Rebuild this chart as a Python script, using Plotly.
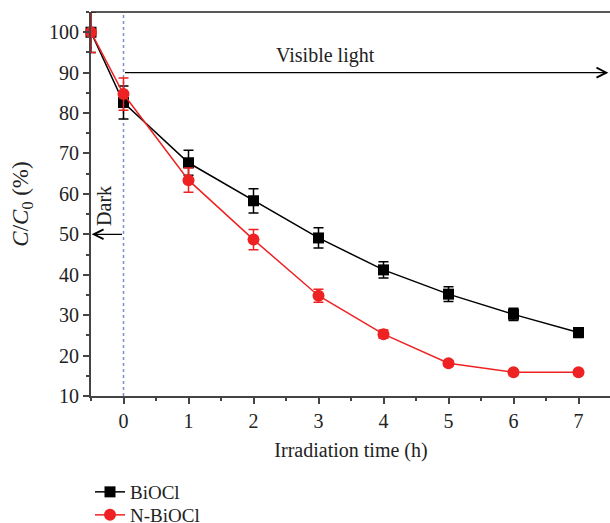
import plotly.graph_objects as go

time_h = [-0.5, 0, 1, 2, 3, 4, 5, 6, 7]
biocl = [100, 82.6, 67.7, 58.3, 49.1, 41.2, 35.2, 30.2, 25.7]
biocl_err = [5, 4.1, 3.1, 3.0, 2.5, 2.0, 1.8, 1.5, 1.2]
nbiocl = [100, 84.7, 63.4, 48.7, 34.8, 25.3, 18.1, 15.9, 15.9]
nbiocl_err = [5, 4.0, 3.0, 2.5, 1.6, 1.0, 0.6, 0.4, 0.4]

x_ticks = [0, 1, 2, 3, 4, 5, 6, 7]
y_ticks = [10, 20, 30, 40, 50, 60, 70, 80, 90, 100]

FONT = "Liberation Serif"
W, H = 611, 523
L, R, T, B = 91, 0, 12, 127
PW, PH = W - L - R, H - T - B

fig = go.Figure()

fig.add_trace(go.Scatter(
    x=time_h, y=biocl, name="BiOCl", mode="lines+markers", legend="legend",
    line=dict(color="black", width=1.5),
    marker=dict(symbol="square", size=11, color="black"),
    error_y=dict(type="data", array=biocl_err, color="black", thickness=1.5, width=5),
    cliponaxis=False,
))
fig.add_trace(go.Scatter(
    x=time_h, y=nbiocl, name="N-BiOCl", mode="lines+markers", legend="legend2",
    line=dict(color="#ee2222", width=1.5),
    marker=dict(symbol="circle", size=12, color="#ee2222"),
    error_y=dict(type="data", array=nbiocl_err, color="#ee2222", thickness=1.5, width=5),
    cliponaxis=False,
))

# top frame line
fig.add_shape(type="line", x0=0, x1=1, y0=1, y1=1, xref="paper", yref="paper",
              line=dict(color="#222", width=1.5))
# dotted vertical line at t = 0
fig.add_shape(type="line", x0=0, x1=0, y0=10, y1=105, xref="x", yref="y",
              line=dict(color="#8090c8", width=1.5, dash="dot"), layer="below")
# white strip masking the stray right-edge line
fig.add_shape(type="line", x0=(609.5 - L) / PW, x1=(609.5 - L) / PW, y0=0.006, y1=0.994,
              xref="paper", yref="paper", line=dict(color="white", width=2.5), layer="above")

# Visible light arrow
fig.add_annotation(x=7.46, y=90, ax=0, ay=90, xref="x", yref="y", axref="x", ayref="y",
                   text="", showarrow=True, arrowhead=5, arrowsize=1.6, arrowwidth=1.2,
                   arrowcolor="black")
fig.add_annotation(x=3.1, y=91, xref="x", yref="y", text="Visible light", showarrow=False,
                   yanchor="bottom", font=dict(family=FONT, size=20, color="#222"))
# Dark arrow
fig.add_annotation(x=-0.49, y=50, ax=0, ay=50, xref="x", yref="y", axref="x", ayref="y",
                   text="", showarrow=True, arrowhead=5, arrowsize=1.6, arrowwidth=1.2,
                   arrowcolor="black")
fig.add_annotation(x=-0.29, y=51.5, xref="x", yref="y", text="Dark", showarrow=False,
                   textangle=-90, yanchor="bottom",
                   font=dict(family=FONT, size=20, color="#222"))

legend_common = dict(xanchor="left", yanchor="top",
                     font=dict(family=FONT, size=19, color="#222"),
                     bgcolor="rgba(0,0,0,0)", itemwidth=30)

fig.update_layout(
    width=W, height=H,
    margin=dict(l=L, r=R, t=T, b=B, autoexpand=False),
    plot_bgcolor="white", paper_bgcolor="white",
    font=dict(family=FONT, size=20, color="#222"),
    showlegend=True,
    legend=dict(x=(90 - L) / PW, y=(T + PH - 473) / PH, **legend_common),
    legend2=dict(x=(90 - L) / PW, y=(T + PH - 496) / PH, **legend_common),
    xaxis=dict(
        range=[-0.5, 7.5], tickvals=x_ticks, ticktext=[str(v) for v in x_ticks],
        ticks="outside", ticklen=6, tickwidth=1.5, tickcolor="#444",
        showline=True, linecolor="#444", linewidth=2, mirror=False,
        showgrid=False, zeroline=False,
        minor=dict(dtick=0.5, tick0=0, ticks="outside", ticklen=3, tickwidth=1.5, tickcolor="#444", showgrid=False),
        title=dict(text="Irradiation time (h)", font=dict(family=FONT, size=20), standoff=12),
        tickfont=dict(family=FONT, size=20),
    ),
    yaxis=dict(
        range=[10, 105], tickvals=y_ticks, ticktext=[str(v) for v in y_ticks],
        ticks="outside", ticklen=6, tickwidth=1.5, tickcolor="#444",
        showline=True, linecolor="#444", linewidth=2, mirror=False,
        showgrid=False, zeroline=False,
        minor=dict(dtick=5, tick0=0, ticks="outside", ticklen=3, tickwidth=1.5, tickcolor="#444", showgrid=False),
        title=dict(text="<i>C</i>/<i>C</i><sub>0</sub> (%)", font=dict(family=FONT, size=23), standoff=14),
        tickfont=dict(family=FONT, size=20),
    ),
)

fig.write_html(
    "out.html",
    post_script="document.documentElement.style.overflow='hidden';document.body.style.overflow='hidden';",
)
